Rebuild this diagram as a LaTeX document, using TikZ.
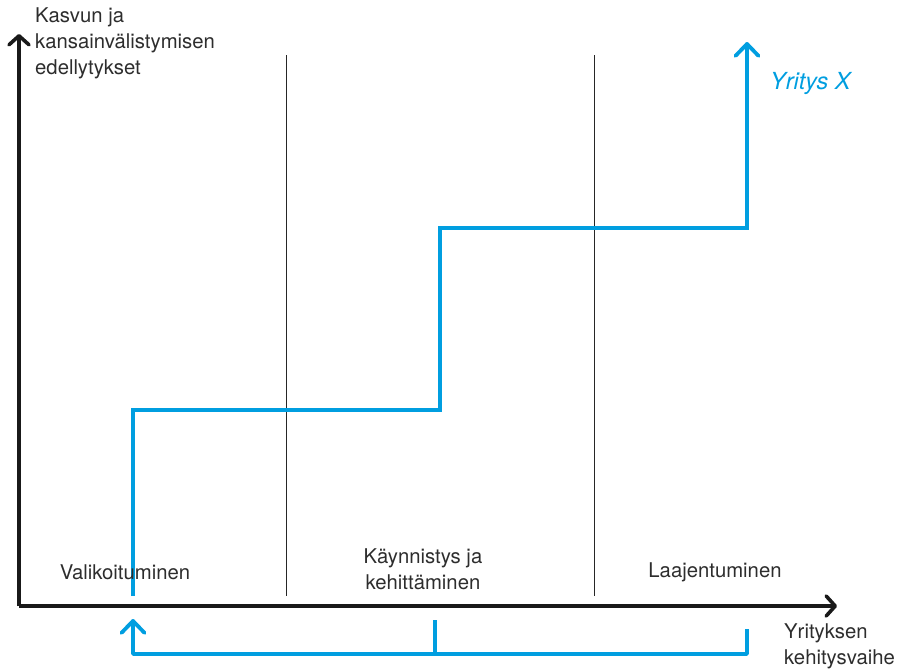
\documentclass[tikz,border=0pt]{standalone}
\usepackage{fontspec}
\setmainfont{TeX Gyre Heros}
\usetikzlibrary{arrows.meta}
\definecolor{xblue}{RGB}{0,158,224}
\definecolor{txt}{RGB}{45,45,45}
\tikzset{
  axis/.style={line width=3.6pt, black!90, -{Straight Barb[length=9pt,width=20pt,line cap=round,line join=round]}},
  blueline/.style={line width=3.8pt, xblue, line join=miter},
  bluetip/.tip={Straight Barb[length=12pt,width=23pt,line cap=round,line join=round]},
  bluearrow/.style={blueline, -bluetip},
  divider/.style={line width=0.8pt, black!85},
  lbl/.style={font=\fontsize{20.3}{26.3}\selectfont, text=txt, inner sep=0pt},
}
\begin{document}
\begin{tikzpicture}[x=1pt,y=-1pt]
\useasboundingbox (0,0) rectangle (900,670);
% axes
\coordinate (O) at (19,606);
\coordinate (Ytop) at (19,34);
\coordinate (Xend) at (837,606);
\draw[axis] (O) -- (Ytop);
\draw[axis] (O) -- (Xend);
% dividers
\coordinate (d1t) at (286,55); \coordinate (d1b) at (286,596);
\coordinate (d2t) at (594,55); \coordinate (d2b) at (594,596);
\draw[divider] (d1t) -- (d1b);
\draw[divider] (d2t) -- (d2b);
% blue step
\coordinate (s0) at (133,596);
\coordinate (s1) at (133,410);
\coordinate (s2) at (440,410);
\coordinate (s3) at (440,228);
\coordinate (s4) at (747,228);
\coordinate (s5) at (747,42);
\draw[bluearrow] (s0) -- (s1) -- (s2) -- (s3) -- (s4) -- (s5);
% bracket
\coordinate (b0) at (133,619);
\coordinate (b1) at (133,654);
\coordinate (b2) at (747,654);
\coordinate (b3) at (747,629);
\coordinate (bm) at (435,654);
\coordinate (bmt) at (435,620);
\draw[blueline, line join=round, bluetip-] (b0) -- (b1) -- (b2) -- (b3);
\draw[blueline] (bm) -- (bmt);
% labels
\node[lbl, anchor=north west, align=left] (ylab) at (35,7) {Kasvun ja\\kansainvälistymisen\\edellytykset};
\node[lbl, anchor=west, text=xblue, font=\fontsize{23.5}{26}\selectfont\itshape] (firm) at (770,83) {Yritys X};
\node[lbl] (p1) at (125,572) {Valikoituminen};
\node[lbl, align=center] (p2) at (423,569) {Käynnistys ja\\kehittäminen};
\node[lbl] (p3) at (715,572) {Laajentuminen};
\node[lbl, anchor=north west, align=left] (xlab) at (784,623) {Yrityksen\\kehitysvaihe};
\end{tikzpicture}
\end{document}
